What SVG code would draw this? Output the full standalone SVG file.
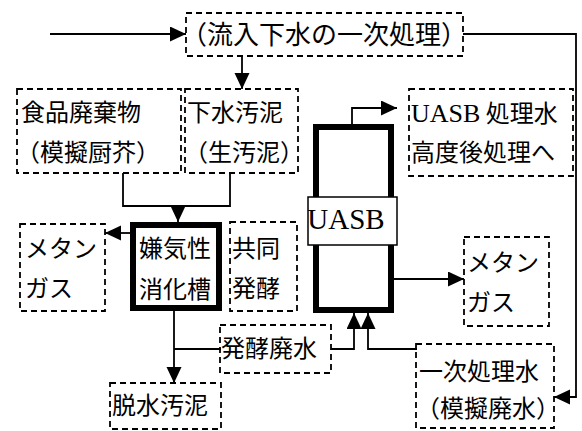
<svg xmlns="http://www.w3.org/2000/svg" width="582" height="431" viewBox="0 0 582 431">
<style>
.d{fill:none;stroke:#000;stroke-width:1.8;stroke-dasharray:6 4}
.c{fill:none;stroke:#000;stroke-width:1.8}
.t{font-family:"Noto Sans CJK JP","Noto Sans",sans-serif;font-size:24px;fill:#000}
.s{font-family:"Liberation Serif",serif;font-size:26px;fill:#000}
</style>
<defs>
<marker id="a" markerUnits="userSpaceOnUse" markerWidth="17" markerHeight="16" refX="16" refY="7.5" orient="auto">
<path d="M0,0 L16,7.5 L0,15 z" fill="#000"/>
</marker>
</defs>
<rect width="582" height="431" fill="#fff"/>
<g id="connectors">
<line class="c" x1="50" y1="34" x2="186" y2="34" marker-end="url(#a)"/>
<polyline class="c" points="463,34 576,34 576,397 554,397" marker-end="url(#a)"/>
<line class="c" x1="242" y1="56" x2="242" y2="89" marker-end="url(#a)"/>
<polyline class="c" points="123,173 123,206 230,206 230,173"/>
<line class="c" x1="178" y1="206" x2="178" y2="222" marker-end="url(#a)"/>
<line class="c" x1="130" y1="233" x2="105" y2="233" marker-end="url(#a)"/>
<line class="c" x1="174" y1="311" x2="174" y2="383" marker-end="url(#a)"/>
<line class="c" x1="174" y1="349" x2="221" y2="349"/>
<polyline class="c" points="352,125 352,108 397,108" marker-end="url(#a)"/>
<line class="c" x1="394" y1="279" x2="464" y2="279" marker-end="url(#a)"/>
<polyline class="c" points="331,349 354,349 354,313" marker-end="url(#a)"/>
<polyline class="c" points="417,349 368,349 368,313" marker-end="url(#a)"/>
</g>
<g id="primary">
<rect class="d" x="186" y="13" width="277" height="43"/>
<text class="t" x="324" y="44" text-anchor="middle" style="font-size:26px">（流入下水の一次処理）</text>
</g>
<g id="food">
<rect class="d" x="17" y="89" width="164" height="84"/>
<text class="t" x="21" y="121">食品廃棄物</text>
<text class="t" x="88" y="161" text-anchor="middle">（模擬厨芥）</text>
</g>
<g id="sludge">
<rect class="d" x="185" y="89" width="113" height="84"/>
<text class="t" x="187" y="121">下水汚泥</text>
<text class="t" x="244" y="161" text-anchor="middle">（生汚泥）</text>
</g>
<g id="digester">
<rect x="133" y="225" width="86" height="83" fill="#fff" stroke="#000" stroke-width="6"/>
<text class="t" x="175" y="257" text-anchor="middle">嫌気性</text>
<text class="t" x="175" y="298" text-anchor="middle">消化槽</text>
</g>
<g id="methane1">
<rect class="d" x="20" y="224" width="85" height="87"/>
<text class="t" x="25" y="257">メタン</text>
<text class="t" x="25" y="297">ガス</text>
</g>
<g id="cofermentation">
<rect class="d" x="230" y="222" width="67" height="89"/>
<text class="t" x="232" y="257">共同</text>
<text class="t" x="232" y="297">発酵</text>
</g>
<g id="wastewater">
<rect class="d" x="220" y="325" width="111" height="48"/>
<text class="t" x="221" y="357">発酵廃水</text>
</g>
<g id="dewatered">
<rect class="d" x="110" y="383" width="111" height="46"/>
<text class="t" x="112" y="414">脱水汚泥</text>
</g>
<g id="uasb">
<rect x="316" y="127" width="75" height="183" fill="#fff" stroke="#000" stroke-width="6"/>
<rect x="308" y="197" width="89" height="48" fill="#fff" stroke="#000" stroke-width="1.5"/>
<text class="s" x="346" y="229" text-anchor="middle" style="font-size:29px">UASB</text>
</g>
<g id="treated">
<rect class="d" x="409" y="89" width="164" height="87"/>
<text class="t" x="411" y="122"><tspan class="s">UASB</tspan> 処理水</text>
<text class="t" x="411" y="161">高度後処理へ</text>
</g>
<g id="methane2">
<rect class="d" x="464" y="237" width="85" height="89"/>
<text class="t" x="467" y="271">メタン</text>
<text class="t" x="467" y="311">ガス</text>
</g>
<g id="primarywater">
<rect class="d" x="416" y="344" width="138" height="84"/>
<text class="t" x="419" y="380">一次処理水</text>
<text class="t" x="488" y="417" text-anchor="middle">（模擬廃水）</text>
</g>
</svg>
